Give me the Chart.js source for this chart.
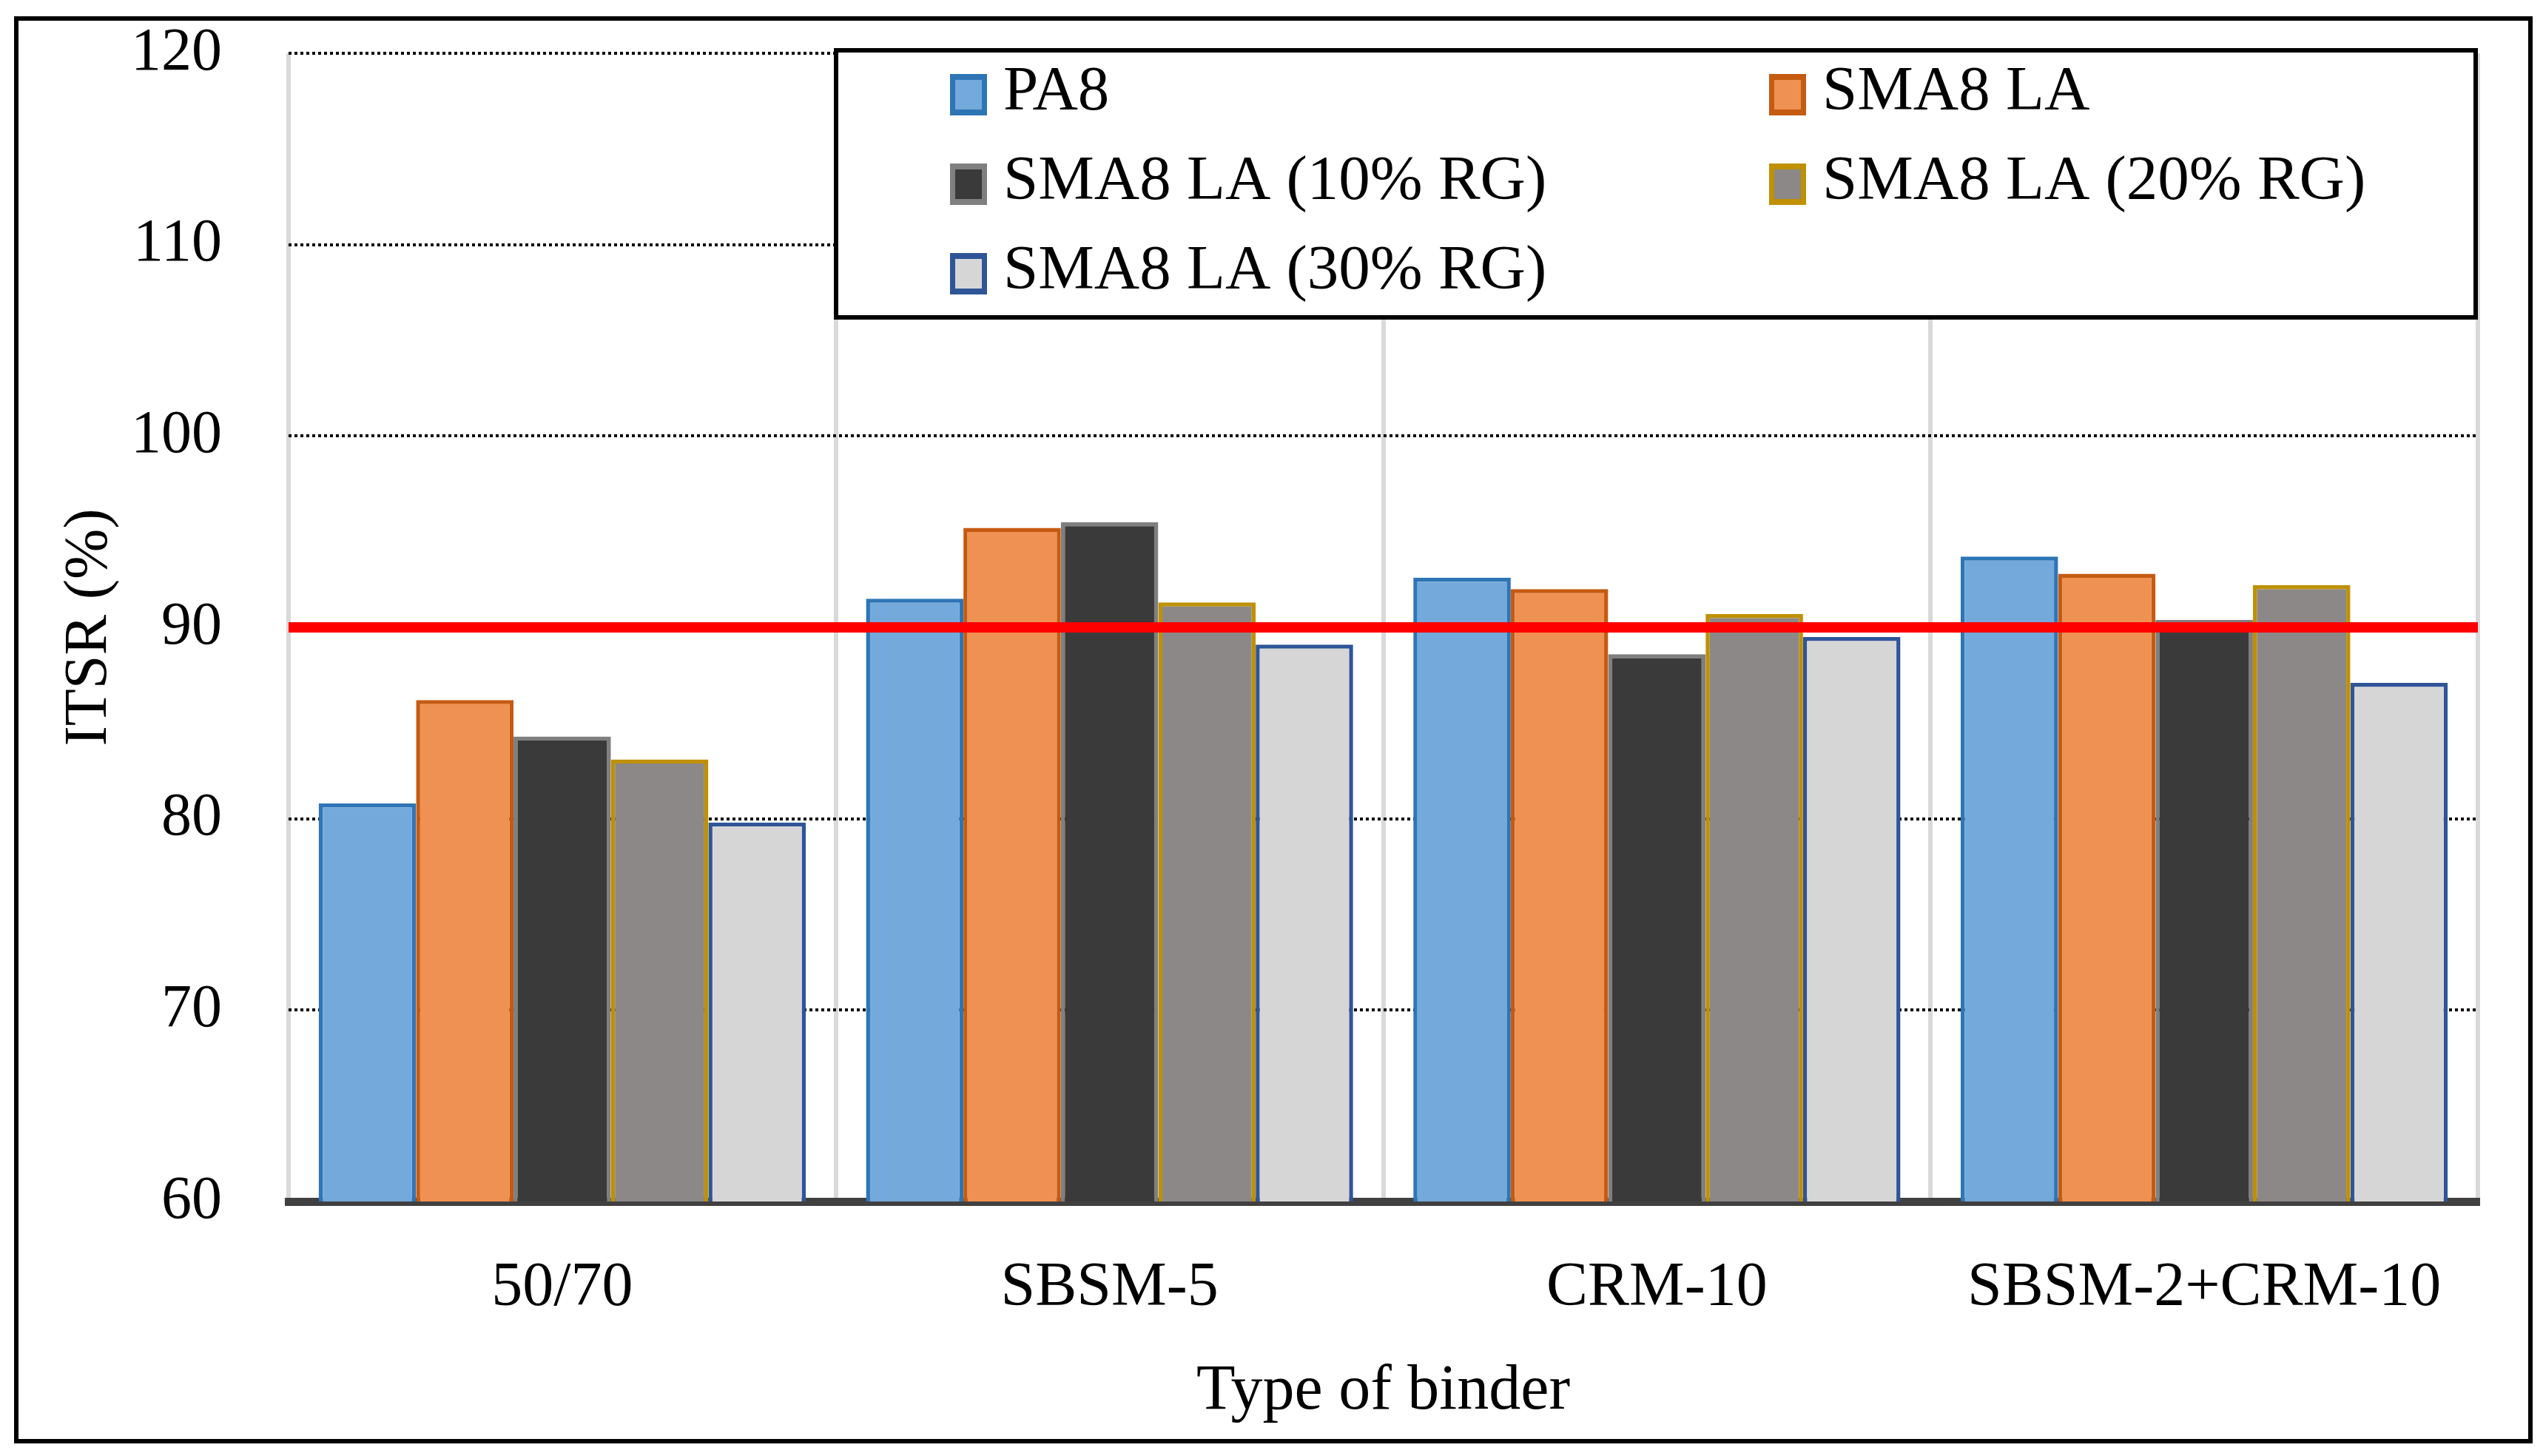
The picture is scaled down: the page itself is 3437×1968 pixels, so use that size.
<!DOCTYPE html>
<html>
<head>
<meta charset="utf-8">
<script src="https://cdn.jsdelivr.net/npm/chart.js@4/dist/chart.umd.min.js"></script>
<style>
  html, body { margin: 0; padding: 0; background: #ffffff; }
  #wrap { width: 3437px; height: 1968px; position: relative; }
</style>
</head>
<body>
<div id="wrap"><canvas id="c" width="3437" height="1968"></canvas></div>
<script>
// ---- data ----
const categories = ['50/70', 'SBSM-5', 'CRM-10', 'SBSM-2+CRM-10'];
const seriesNames = ['PA8', 'SMA8 LA', 'SMA8 LA (10% RG)', 'SMA8 LA (20% RG)', 'SMA8 LA (30% RG)'];
const pa8Values    = [80.8, 91.5, 92.6, 93.7];
const sma8laValues = [86.2, 95.2, 92.0, 92.8];
const rg10Values   = [84.3, 95.5, 88.6, 90.4];
const rg20Values   = [83.1, 91.3, 90.7, 92.2];
const rg30Values   = [79.8, 89.1, 89.5, 87.1];
const thresholdValue = 90;
const yMin = 60, yMax = 120, yStep = 10;
const yTitle = 'ITSR (%)';
const xTitle = 'Type of binder';

// ---- styles ----
const fills   = ['#74A9DB', '#EF9152', '#3A3A3A', '#8B8887', '#D7D6D7'];
const borders = ['#2E75B6', '#C55A11', '#7F7F7F', '#BF9000', '#2F5597'];
const FONT = "'Liberation Serif', 'Times New Roman', serif";
const FS = 80;

const seriesValues = [pa8Values, sma8laValues, rg10Values, rg20Values, rg30Values];

const datasets = seriesNames.map((name, i) => ({
  label: name,
  data: seriesValues[i],
  backgroundColor: fills[i],
  borderColor: borders[i],
  borderWidth: 5.5,
  categoryPercentage: 0.89,
  barPercentage: 1.0
}));

const frame = {
  id: 'frame',
  beforeDraw(chart) {
    const ctx = chart.ctx;
    ctx.save();
    ctx.fillStyle = '#ffffff';
    ctx.fillRect(0, 0, chart.width, chart.height);
    ctx.restore();
  },
  afterDraw(chart) {
    const ctx = chart.ctx;
    ctx.save();
    ctx.strokeStyle = '#000000';
    ctx.lineWidth = 6;
    ctx.strokeRect(22, 25, 3420 - 22, 1948 - 25);
    ctx.restore();
  }
};

const thresholdLine = {
  id: 'thresholdLine',
  afterDatasetsDraw(chart) {
    const y = chart.scales.y.getPixelForValue(thresholdValue);
    const a = chart.chartArea;
    const ctx = chart.ctx;
    ctx.save();
    ctx.strokeStyle = '#FF0000';
    ctx.lineWidth = 14;
    ctx.beginPath();
    ctx.moveTo(a.left, y);
    ctx.lineTo(a.right, y);
    ctx.stroke();
    ctx.restore();
  }
};

const boxLegend = {
  id: 'boxLegend',
  afterDraw(chart) {
    const ctx = chart.ctx;
    const bx = 1130, by = 68, bw = 3346 - 1130, bh = 429 - 68;
    ctx.save();
    ctx.fillStyle = '#ffffff';
    ctx.fillRect(bx, by, bw, bh);
    ctx.strokeStyle = '#000000';
    ctx.lineWidth = 6;
    ctx.strokeRect(bx, by, bw, bh);
    const colX = [1284, 2391];
    const rowY = [128, 249, 370];
    ctx.font = '85px ' + FONT;
    ctx.textBaseline = 'middle';
    ctx.textAlign = 'left';
    chart.data.datasets.forEach((ds, i) => {
      const cx = colX[i % 2];
      const cy = rowY[Math.floor(i / 2)];
      const sw = 50, sh = 56;
      ctx.fillStyle = ds.borderColor;
      ctx.fillRect(cx, cy - sh / 2, sw, sh);
      ctx.fillStyle = ds.backgroundColor;
      ctx.fillRect(cx + 7, cy - sh / 2 + 8, sw - 14, sh - 16);
      ctx.fillStyle = '#000000';
      ctx.fillText(ds.label, cx + 72, cy - 2);
    });
    ctx.restore();
  }
};

Chart.defaults.font.family = FONT;
Chart.defaults.color = '#000000';

new Chart(document.getElementById('c'), {
  type: 'bar',
  data: { labels: categories, datasets },
  options: {
    responsive: false,
    devicePixelRatio: 1,
    animation: false,
    layout: { autoPadding: false, padding: { left: 22, top: 72, right: 88, bottom: 27 } },
    plugins: { legend: { display: false }, tooltip: { enabled: false } },
    scales: {
      x: {
        afterFit(s) { s.height = 317; s.paddingLeft = 0; s.paddingRight = 0; },
        grid: { color: '#D9D9D9', lineWidth: 6, drawTicks: false, offset: true },
        border: { display: true, color: '#404040', width: 11 },
        ticks: { padding: 68, font: { size: 84, family: FONT }, color: '#000' },
        title: { display: true, text: xTitle, font: { size: 86, family: FONT }, color: '#000', padding: { top: 0, bottom: 8 } }
      },
      y: {
        min: yMin, max: yMax,
        afterFit(s) { s.width = 368; s.paddingTop = 0; s.paddingBottom = 0; },
        ticks: { stepSize: yStep, padding: 90, font: { size: 82, family: FONT }, color: '#000' },
        grid: { color: '#000000', lineWidth: 4, drawTicks: false },
        border: { display: false, dash: [4, 4] },
        title: { display: true, text: yTitle, font: { size: 82, family: FONT }, color: '#000', padding: { top: 50, bottom: 0 } }
      }
    }
  },
  plugins: [frame, thresholdLine, boxLegend]
});
</script>
</body>
</html>
